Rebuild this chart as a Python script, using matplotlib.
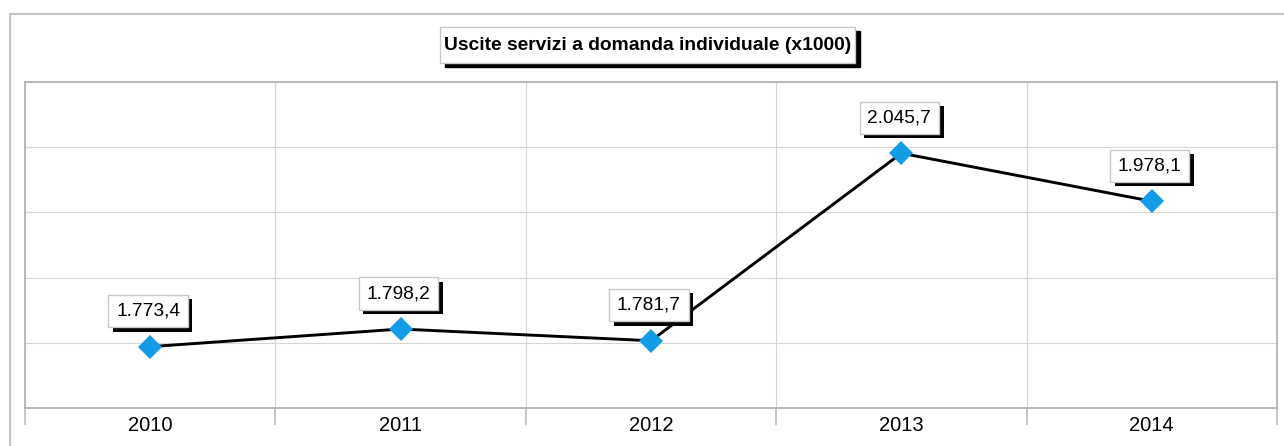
import matplotlib
matplotlib.use("Agg")
import matplotlib.pyplot as plt
from matplotlib import patheffects
from matplotlib.patches import Rectangle
from matplotlib.ticker import LinearLocator

# Uscite per servizi a domanda individuale, migliaia di euro
anni = ["2010", "2011", "2012", "2013", "2014"]
uscite = [1773.4, 1798.2, 1781.7, 2045.7, 1978.1]
titolo = "Uscite servizi a domanda individuale (x1000)"

plt.rcParams["font.family"] = ["Liberation Sans", "DejaVu Sans"]

W, H = 1284, 446
fig = plt.figure(figsize=(W / 100, H / 100), dpi=100)


def fmt_it(v):
    # 1773.4 -> "1.773,4"
    return f"{v:,.1f}".replace(",", "X").replace(".", ",").replace("X", ".")


def px(x, y, w, h):
    # pixel box (from top-left) -> figure fraction
    return (x / W, 1 - (y + h) / H), w / W, h / H


# cornice esterna
fig.patches.append(Rectangle((9.5 / W, -0.1), 2, 1 - 13.5 / H + 0.1,
                             transform=fig.transFigure, fill=False,
                             edgecolor="#c4c4c4", lw=1.5))

# titolo con ombra
for dx, dy, fc, ec, z in [(5, 4, "black", "black", 1), (0, 0, "white", "#c8c8c8", 2)]:
    xy, w, h = px(440 + dx, 27 + dy, 415, 36)
    fig.patches.append(Rectangle(xy, w, h, transform=fig.transFigure,
                                 facecolor=fc, edgecolor=ec, lw=1, zorder=z))
fig.text(647.5 / W, 1 - 45 / H, titolo, ha="center", va="center",
         fontsize=13.9, fontweight="bold", zorder=3)

ax = fig.add_axes([25 / W, 38 / H, 1252 / W, 326 / H])
x = list(range(len(anni)))
ax.plot(x, uscite, color="black", lw=2.1, marker="D", markersize=11.8,
        markerfacecolor="#129ce8", markeredgewidth=0, zorder=3)

ax.set_xlim(-0.5, len(anni) - 0.5)
ax.set_ylim(1687, 2146)
ax.yaxis.set_major_locator(LinearLocator(6))
ax.tick_params(axis="y", left=False, labelleft=False)

ax.set_xticks(x)
ax.set_xticklabels(anni, fontsize=14.5)
ax.set_xticks([i - 0.5 for i in range(len(anni) + 1)], minor=True)
ax.tick_params(axis="x", which="major", length=0, pad=5.5)
ax.tick_params(axis="x", which="minor", length=12, color="#b8b8b8", width=1.1)

ax.grid(axis="y", color="#d6d6d6", lw=0.8)
ax.grid(axis="x", which="minor", color="#d6d6d6", lw=0.8)
ax.set_axisbelow(True)
for s in ax.spines.values():
    s.set_color("#b4b4b4")
    s.set_linewidth(1.3)

# etichette dei valori
for xi, v in zip(x, uscite):
    t = ax.annotate(fmt_it(v), (xi, v), xytext=(-1.5, 25.5), textcoords="offset points",
                    ha="center", va="center", fontsize=13.8, zorder=4,
                    bbox=dict(boxstyle="square,pad=0.4", fc="white", ec="#c8c8c8", lw=1))
    t.get_bbox_patch().set_path_effects(
        [patheffects.withSimplePatchShadow(offset=(3.3, -3), shadow_rgbFace="black", alpha=1)])

fig.savefig("out.png", dpi=100)
